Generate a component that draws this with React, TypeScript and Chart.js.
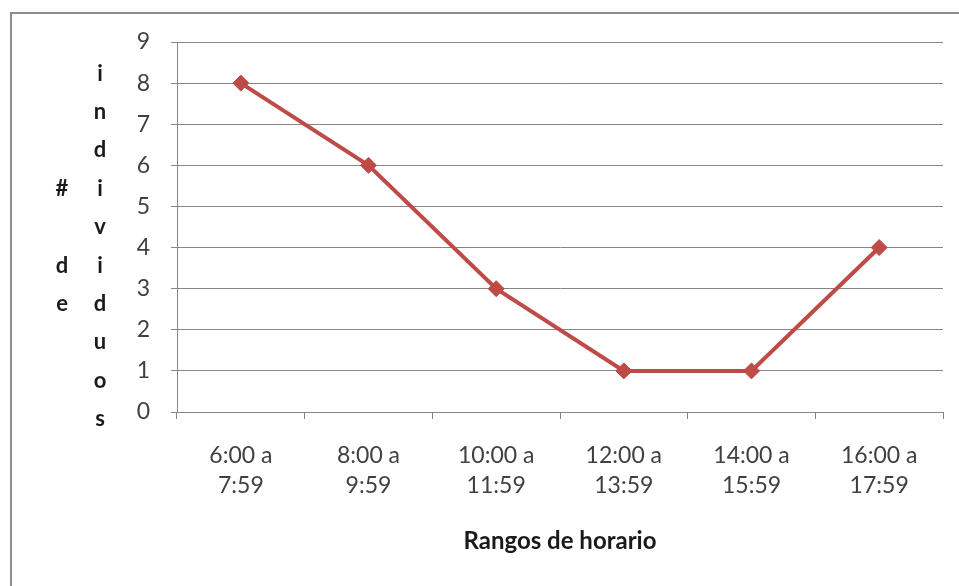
import React, { useEffect, useRef } from "react";
import { Chart, registerables } from "chart.js";

Chart.register(...registerables);

const categories: string[][] = [
  ["6:00 a", "7:59"],
  ["8:00 a", "9:59"],
  ["10:00 a", "11:59"],
  ["12:00 a", "13:59"],
  ["14:00 a", "15:59"],
  ["16:00 a", "17:59"],
];
const individuos: number[] = [8, 6, 3, 1, 1, 4];
const yTitleColumns: string[][] = [
  ["#", " ", "d", "e"],
  ["i", "n", "d", "i", "v", "i", "d", "u", "o", "s"],
];
const xTitle = "Rangos de horario";

const FONT = "Lato, 'Open Sans', sans-serif";

const framePlugin = {
  id: "frame",
  beforeDraw(chart: any) {
    const { ctx, width, height } = chart;
    ctx.save();
    ctx.fillStyle = "#ffffff";
    ctx.fillRect(0, 0, width, height);
    ctx.strokeStyle = "#8c8c8c";
    ctx.lineWidth = 2;
    ctx.beginPath();
    ctx.moveTo(11, height);
    ctx.lineTo(11, 13);
    ctx.lineTo(width, 13);
    ctx.stroke();
    ctx.restore();
  },
  afterDraw(chart: any) {
    const { ctx, chartArea } = chart;
    ctx.save();
    ctx.fillStyle = "#1a1a1a";
    ctx.font = `bold 22px ${FONT}`;
    ctx.textAlign = "center";
    ctx.textBaseline = "middle";
    const step = 38.4;
    const centerY = chartArea.top + (chartArea.bottom - chartArea.top) * 0.552;
    const xs = [chartArea.left - 115, chartArea.left - 77];
    yTitleColumns.forEach((col, ci) => {
      const start = centerY - ((col.length - 1) * step) / 2;
      col.forEach((ch, i) => {
        ctx.fillText(ch, xs[ci], start + i * step);
      });
    });
    ctx.restore();
  },
};

export default function App() {
  const ref = useRef<HTMLCanvasElement | null>(null);
  useEffect(() => {
    if (!ref.current) return;
    const chart = new Chart(ref.current, {
      type: "line",
      data: {
        labels: categories as any,
        datasets: [
          {
            data: individuos,
            borderColor: "#BE4B48",
            backgroundColor: "#BE4B48",
            borderWidth: 4,
            pointStyle: "rectRot",
            pointRadius: 8,
            pointHoverRadius: 8,
            pointBorderWidth: 1,
            tension: 0,
          },
        ],
      },
      options: {
        animation: false,
        responsive: true,
        maintainAspectRatio: false,
        layout: { padding: { top: 42, right: 16, left: 0, bottom: 0 } },
        plugins: { legend: { display: false }, tooltip: { enabled: false } },
        scales: {
          x: {
            offset: true,
            grid: {
              offset: true,
              drawOnChartArea: false,
              drawTicks: true,
              tickLength: 7,
              color: "#868686",
            },
            border: { color: "#868686", width: 1 },
            ticks: {
              color: "#404040",
              font: { family: FONT, size: 23, lineHeight: 1.3 },
              padding: 22,
              maxRotation: 0,
              autoSkip: false,
            },
            title: {
              display: true,
              text: xTitle,
              color: "#1a1a1a",
              font: { family: FONT, size: 24, weight: "bold" },
              padding: { top: 20, bottom: 30 },
            },
            afterFit(scale: any) {
              scale.height = 174;
            },
          },
          y: {
            min: 0,
            max: 9,
            ticks: {
              stepSize: 1,
              color: "#404040",
              font: { family: FONT, size: 23 },
              padding: 21,
            },
            grid: { color: "#868686", tickLength: 6, drawTicks: true },
            border: { color: "#868686", width: 1 },
            afterFit(scale: any) {
              scale.width = 177;
            },
          },
        },
      },
      plugins: [framePlugin],
    });
    return () => chart.destroy();
  }, []);
  return (
    <div style={{ position: "fixed", left: 0, top: 0, width: 959, height: 586 }}>
      <canvas ref={ref} />
    </div>
  );
}
